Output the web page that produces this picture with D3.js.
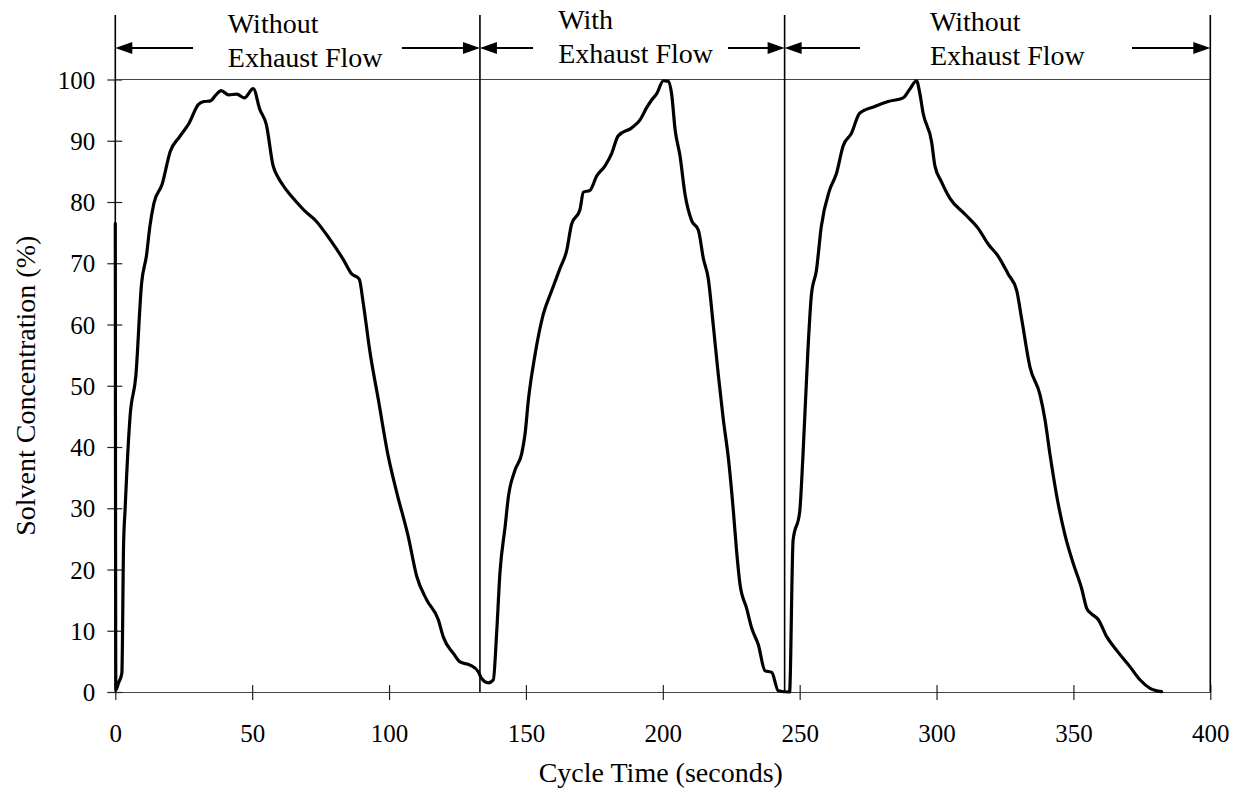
<!DOCTYPE html>
<html>
<head>
<meta charset="utf-8">
<script src="https://cdn.jsdelivr.net/npm/d3@7"></script>
<style>
  html, body { margin: 0; padding: 0; background: #fff; }
  svg { display: block; font-family: "Liberation Serif", "Times New Roman", serif; }
</style>
</head>
<body>
<svg id="chart" width="1245" height="795"></svg>
<script>
// Cycle time (s) and measured solvent concentration (%)
const time = [
  0, 0.2, 1.2, 2.4, 3.0, 3.6, 5.4, 7.5, 9.6, 11.4, 12.6, 14.1, 17.1, 20.1, 23.4, 27.0,
  30.3, 32.4, 34.8, 36.6, 38.7, 41.4, 44.4, 47.1, 50.4, 52.8, 55.2, 57.6, 59.5, 61.8,
  66.6, 69.3, 72.9, 78.4, 83.3, 86.3, 89.1, 90.6, 93.0, 96.1, 99.7, 102.8, 107.0, 110.1,
  113.8, 118.0, 119.8, 123.5, 125.9, 129.6, 132.6, 133.8, 136.3, 138.1, 139.3, 140.5,
  142.4, 143.6, 146.0, 148.5, 149.7, 150.9, 153.3, 156.3, 159.4, 162.4, 164.9, 166.7,
  169.7, 171.0, 173.4, 175.8, 178.9, 181.3, 183.7, 188.6, 191.7, 194.1, 196.0, 197.8,
  200.2, 202.0, 203.2, 204.5, 206.3, 208.1, 210.5, 213.0, 214.8, 216.6, 218.5, 220.3,
  222.1, 224.0, 225.8, 227.0, 228.2, 230.6, 232.5, 234.9, 237.3, 239.8, 242.2, 246.3,
  247.6, 250.0, 251.2, 253.0, 254.3, 256.1, 257.9, 260.9, 263.4, 265.9, 268.9, 271.9,
  277.4, 282.3, 287.8, 290.2, 292.7, 293.9, 295.1, 298.2, 299.4, 301.8, 304.9, 310.4,
  315.2, 318.9, 322.6, 326.2, 329.3, 331.1, 334.1, 337.8, 339.6, 341.5, 343.9, 347.0,
  350.0, 353.0, 354.9, 356.5, 359.1, 362.2, 365.8, 370.7, 374.3, 378.0, 382.2
];
const conc = [
  76.5, 0.3, 1.5, 3.1, 23.5, 30.0, 45.0, 51.6, 66.7, 71.3, 75.9, 79.8, 82.9, 88.3, 90.6, 92.9,
  95.9, 96.4, 96.5, 97.4, 98.2, 97.5, 97.6, 97.0, 98.5, 95.1, 92.6, 86.0, 84.0, 82.4,
  79.8, 78.5, 77.1, 73.9, 70.6, 68.3, 67.4, 63.4, 55.6, 47.7, 38.5, 32.6, 25.4, 18.9,
  15.0, 11.8, 9.0, 6.3, 4.9, 4.4, 3.3, 2.2, 1.5, 2.0, 9.6, 19.4,
  27.0, 31.9, 36.2, 39.0, 42.2, 47.7, 55.0, 61.6, 65.5, 69.1, 72.1, 76.4,
  78.7, 81.6, 81.9, 84.2, 85.9, 87.9, 90.8, 92.1, 93.4, 95.4, 96.7, 97.7,
  99.8, 99.7, 97.7, 91.8, 87.5, 81.3, 77.0, 75.4, 70.8, 67.5, 59.6, 51.7,
  44.5, 38.0, 29.4, 22.8, 17.6, 13.7, 10.4, 7.7, 3.5, 3.2, 0.2, 0.0,
  24.8, 29.4, 38.6, 55.7, 64.9, 68.8, 76.0, 81.9, 84.6, 89.2, 91.2, 94.5,
  95.6, 96.4, 97.0, 98.4, 99.8, 97.7, 94.5, 89.8, 85.9, 83.3, 80.6, 78.0,
  75.7, 73.1, 71.1, 68.2, 65.5, 60.9, 53.1, 48.5, 44.5, 38.6, 32.0, 25.5,
  20.9, 16.9, 13.6, 12.8, 11.8, 9.0, 6.8, 4.1, 2.0, 0.6, 0.05
];

// Axis ticks
const xTicks = [0, 50, 100, 150, 200, 250, 300, 350, 400];
const yTicks = [0, 10, 20, 30, 40, 50, 60, 70, 80, 90, 100];

// Operating phases: boundaries (s) and captions
const phaseBounds = [0, 133.2, 244.5, 400];
const phaseCaptions = [
  ["Without", "Exhaust Flow"],
  ["With", "Exhaust Flow"],
  ["Without", "Exhaust Flow"]
];
// Caption start (s) and the open gap in each double arrow (s)
const captionStart = [41.1, 161.8, 297.6];
const arrowGaps = [[28.4, 104.7], [152.6, 223.8], [272.0, 371.4]];

// ---- layout ----
const svg = d3.select("#chart");
const x = d3.scaleLinear().domain([0, 400]).range([115.3, 1210.3]);
const y = d3.scaleLinear().domain([0, 100]).range([692, 79.5]);
const topY = 15;         // upper end of the phase separators
const arrowY = 48;
const captionBaselines = [[33, 67], [29, 63], [31, 65]];

// x axis
const gx = svg.append("g").attr("transform", `translate(0,${y(0)})`)
  .call(d3.axisBottom(x).tickValues(xTicks).tickFormat(d3.format("d")).tickSizeOuter(0));
gx.select(".domain").attr("stroke", "#444").attr("stroke-width", 1.2);
gx.selectAll(".tick line").attr("y1", -7).attr("y2", 8).attr("stroke", "#222").attr("stroke-width", 1.2);
gx.selectAll(".tick text").attr("y", 32).attr("dy", "0.71em")
  .attr("font-size", 25).attr("font-family", "Liberation Serif").attr("fill", "#000");

// y axis
const gy = svg.append("g").attr("transform", `translate(${x(0)},0)`)
  .call(d3.axisLeft(y).tickValues(yTicks).tickFormat(d3.format("d")).tickSizeOuter(0));
gy.select(".domain").remove();
gy.selectAll(".tick line").attr("x1", 7).attr("x2", -8).attr("stroke", "#222").attr("stroke-width", 1.2);
gy.selectAll(".tick text").attr("x", -20).attr("dy", "0.34em")
  .attr("font-size", 25).attr("font-family", "Liberation Serif").attr("fill", "#000");

// top frame line at 100 %
svg.append("line")
  .attr("x1", x(0)).attr("x2", x(400)).attr("y1", y(100)).attr("y2", y(100))
  .attr("stroke", "#444").attr("stroke-width", 1.2);

// phase separators (include the left axis and the right border)
svg.append("g").selectAll("line").data(phaseBounds).join("line")
  .attr("x1", d => x(d)).attr("x2", d => x(d))
  .attr("y1", topY).attr("y2", y(0))
  .attr("stroke", "#000").attr("stroke-width", 1.6);

// concentration curve
const pts = time.map((t, i) => [t, conc[i]]);
svg.append("path")
  .datum(pts)
  .attr("fill", "none")
  .attr("stroke", "#000")
  .attr("stroke-width", 3.2)
  .attr("stroke-linejoin", "round")
  .attr("stroke-linecap", "round")
  .attr("d", d3.line().curve(d3.curveMonotoneX).x(d => x(d[0])).y(d => y(d[1])));

// double arrows with captions
const head = 17, half = 6;
const ann = svg.append("g");
phaseCaptions.forEach((cap, i) => {
  const a = x(phaseBounds[i]), b = x(phaseBounds[i + 1]);
  const g0 = x(arrowGaps[i][0]), g1 = x(arrowGaps[i][1]);
  ann.append("line").attr("x1", a + head - 1).attr("x2", g0).attr("y1", arrowY).attr("y2", arrowY)
    .attr("stroke", "#000").attr("stroke-width", 2);
  ann.append("line").attr("x1", g1).attr("x2", b - head + 1).attr("y1", arrowY).attr("y2", arrowY)
    .attr("stroke", "#000").attr("stroke-width", 2);
  ann.append("path")
    .attr("d", `M${a},${arrowY} L${a + head},${arrowY - half} L${a + head},${arrowY + half} Z`)
    .attr("fill", "#000");
  ann.append("path")
    .attr("d", `M${b},${arrowY} L${b - head},${arrowY - half} L${b - head},${arrowY + half} Z`)
    .attr("fill", "#000");
  cap.forEach((line, j) => {
    ann.append("text")
      .attr("x", x(captionStart[i]))
      .attr("y", captionBaselines[i][j])
      .attr("font-size", 28)
      .attr("fill", "#000")
      .text(line);
  });
});

// axis titles
svg.append("text")
  .attr("x", x(200) - 2).attr("y", 782)
  .attr("text-anchor", "middle")
  .attr("font-size", 28)
  .text("Cycle Time (seconds)");

svg.append("text")
  .attr("transform", `translate(35,${(y(0) + y(100)) / 2}) rotate(-90)`)
  .attr("text-anchor", "middle")
  .attr("font-size", 28)
  .text("Solvent Concentration (%)");
</script>
</body>
</html>
